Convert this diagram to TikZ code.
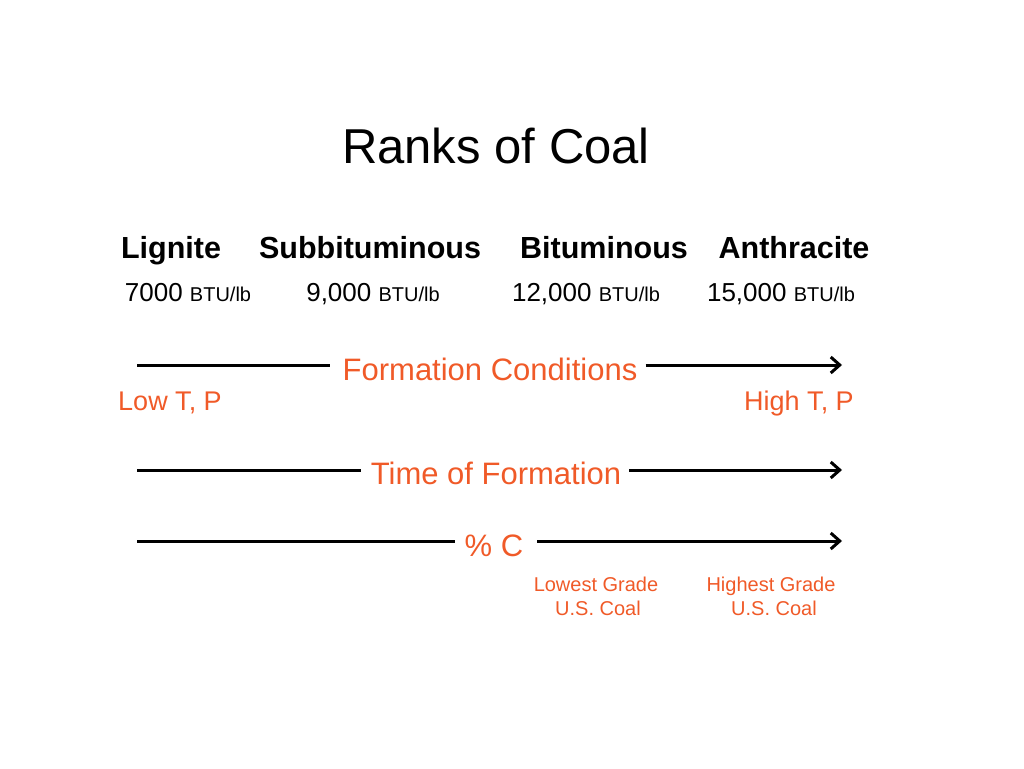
\documentclass[tikz,border=0pt]{standalone}
\usepackage{fontspec}
\setmainfont{Liberation Sans}
\usetikzlibrary{arrows.meta}
\definecolor{org}{HTML}{F05A28}
\begin{document}
\begin{tikzpicture}[x=1pt,y=-1pt,
  every node/.style={anchor=base},
  rank/.style={font=\fontsize{30.5}{34}\selectfont\bfseries},
  btu/.style={font=\fontsize{26}{30}\selectfont},
  lab/.style={text=org,font=\fontsize{31}{34}\selectfont,inner sep=0pt},
  lab2/.style={text=org,font=\fontsize{27}{30}\selectfont},
  small/.style={text=org,font=\fontsize{20}{24}\selectfont},
  arr/.style={line width=3pt}]
\useasboundingbox (0,0) rectangle (1024,768);
\node (t) at (496,163) {\fontsize{49}{54}\selectfont Ranks of Coal};
\node[rank] (l) at (171,258) {Lignite};
\node[rank] (s) at (370,258) {Subbituminous};
\node[rank] (b) at (604,258) {Bituminous};
\node[rank] (a) at (794,258) {Anthracite};
\newcommand{\bt}{{\fontsize{20}{24}\selectfont BTU/lb}}
\node[btu] (l2) at (188,301) {7000 \bt};
\node[btu] (s2) at (373,301) {9,000 \bt};
\node[btu] (b2) at (586,301) {12,000 \bt};
\node[btu] (a2) at (781,301) {15,000 \bt};
\coordinate (r1a) at (137,365); \coordinate (r1b) at (842,365);
\node[lab] (fc) at (490,380) {Formation Conditions};
\draw[arr] (r1a) -- ([xshift=-12pt]fc.west|-r1a);
\draw[arr,-{Straight Barb[length=9pt,width=16pt]}] ([xshift=8pt]fc.east|-r1b) -- (r1b);
\node[lab2] (lo) at (170,410) {Low T, P};
\node[lab2] (hi) at (799,410) {High T, P};
\coordinate (r2a) at (137,470); \coordinate (r2b) at (842,470);
\node[lab] (tf) at (496,484) {Time of Formation};
\draw[arr] (r2a) -- ([xshift=-10pt]tf.west|-r2a);
\draw[arr,-{Straight Barb[length=9pt,width=16pt]}] ([xshift=8pt]tf.east|-r2b) -- (r2b);
\coordinate (r3a) at (137,541); \coordinate (r3b) at (842,541);
\node[lab] (pc) at (494,556) {\% C};
\draw[arr] (r3a) -- ([xshift=-10pt]pc.west|-r3a);
\draw[arr,-{Straight Barb[length=9pt,width=16pt]}] ([xshift=14pt]pc.east|-r3b) -- (r3b);
\node[small] (lg) at (596,591) {Lowest Grade};
\node[small] (lg2) at (598,615) {U.S. Coal};
\node[small] (hg) at (771,591) {Highest Grade};
\node[small] (hg2) at (774,615) {U.S. Coal};
\end{tikzpicture}
\end{document}
